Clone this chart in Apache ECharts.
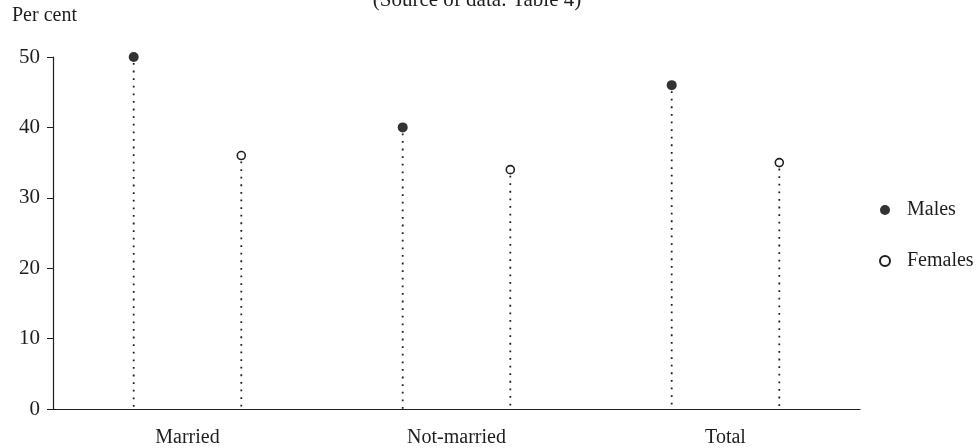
<!DOCTYPE html>
<html lang="en">
<head>
<meta charset="utf-8">
<title>Per cent by marital status</title>
<script src="https://cdn.jsdelivr.net/npm/echarts@6/dist/echarts.min.js"></script>
<style>
  body { margin: 0; background: #fff; }
  #main { width: 978px; height: 448px; }
</style>
</head>
<body>
<div id="main"></div>
<script type="text/javascript">
// data
var categories = ['Married', 'Not-married', 'Total'];
var males = [50, 40, 46];
var females = [36, 34, 35];
var yTicks = [0, 10, 20, 30, 40, 50];

var serif = '"Liberation Serif", "DejaVu Serif", serif';
var ink = '#1e1e1e';

// each category spans 1 unit on the hidden value axis; males left, females right
var shift = 0.2;
function points(vals, side) {
    var res = [];
    for (var i = 0; i < vals.length; i++) {
        res.push([i + 0.5 + side * shift, vals[i]]);
    }
    return res;
}
var malePts = points(males, -1);
var femalePts = points(females, 1);

var myChart = echarts.init(document.getElementById('main'));

var option = {
    animation: false,
    title: [
        {
            text: '(Source of data: Table 4)',
            left: 472, top: -15, textAlign: 'center',
            textStyle: { fontFamily: serif, fontSize: 21, fontWeight: 'normal', color: ink }
        },
        {
            text: 'Per cent',
            left: 7, top: 1,
            textStyle: { fontFamily: serif, fontSize: 20, fontWeight: 'normal', color: ink }
        }
    ],
    legend: {
        orient: 'vertical',
        left: 874, top: 195,
        itemWidth: 10, itemHeight: 10, itemGap: 31,
        data: ['Males', 'Females'],
        textStyle: { fontFamily: serif, fontSize: 20, color: ink, padding: [0, 0, 0, 12] }
    },
    grid: { left: 53, right: 118, top: 57, bottom: 39 },
    xAxis: [
        {
            type: 'category',
            data: categories,
            boundaryGap: true,
            axisLine: { lineStyle: { color: ink, width: 1.2 } },
            axisTick: { alignWithLabel: true, length: 5, lineStyle: { color: ink } },
            axisLabel: { fontFamily: serif, fontSize: 20, color: ink, margin: 19 },
            splitLine: { show: false }
        },
        {
            type: 'value', min: 0, max: 3, show: false
        }
    ],
    yAxis: {
        type: 'value',
        min: 0, max: 50, interval: 10,
        axisLine: { show: true, lineStyle: { color: ink, width: 1.2 } },
        axisTick: { show: true, length: 6, lineStyle: { color: ink } },
        axisLabel: {
            fontFamily: serif, fontSize: 21, color: ink, margin: 13,
            formatter: function (v) { return yTicks.indexOf(v) >= 0 ? String(v) : ''; }
        },
        splitLine: { show: false }
    },
    series: [
        {
            name: 'stems',
            type: 'custom',
            xAxisIndex: 1,
            silent: true,
            data: malePts.concat(femalePts),
            renderItem: function (params, api) {
                var top = api.coord([api.value(0), api.value(1)]);
                var bottom = api.coord([api.value(0), 0]);
                return {
                    type: 'line',
                    shape: { x1: top[0], y1: top[1] + 6, x2: bottom[0], y2: bottom[1] },
                    style: { stroke: ink, lineWidth: 1.8, lineDash: [1.8, 5.8] }
                };
            },
            z: 1
        },
        {
            name: 'Males',
            type: 'scatter',
            xAxisIndex: 1,
            symbol: 'circle',
            symbolSize: 10,
            itemStyle: { color: '#333', opacity: 1 },
            data: malePts,
            z: 3
        },
        {
            name: 'Females',
            type: 'scatter',
            xAxisIndex: 1,
            symbol: 'circle',
            symbolSize: 8,
            itemStyle: { color: '#fff', borderColor: ink, borderWidth: 1.6, opacity: 1 },
            data: femalePts,
            z: 3
        }
    ]
};

myChart.setOption(option);
</script>
</body>
</html>
